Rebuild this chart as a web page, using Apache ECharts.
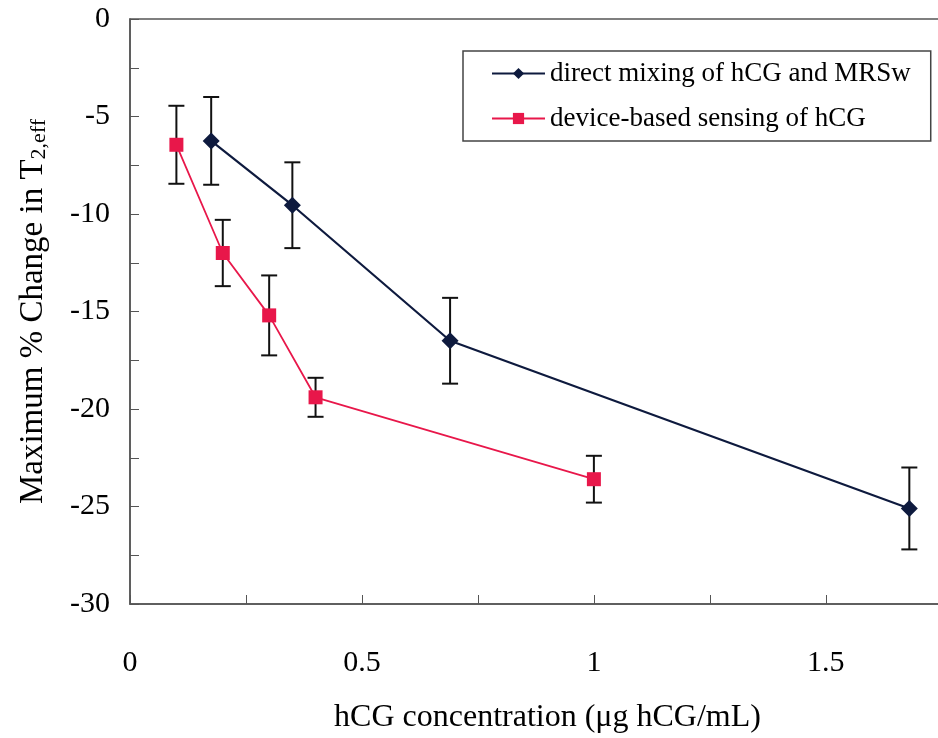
<!DOCTYPE html>
<html>
<head>
    <meta charset="utf-8">
    <script src="https://cdn.jsdelivr.net/npm/echarts@6/dist/echarts.min.js"></script>
    <style>
        body { margin: 0; background: #fff; }
    </style>
</head>
<body>
<div id="main" style="width: 938px;height:738px;"></div>
<script type="text/javascript">
    // values
    var directX = [0.175, 0.35, 0.69, 1.68];
    var directY = [-6.25, -9.55, -16.5, -25.1];
    var directErr = [2.25, 2.2, 2.2, 2.1];

    var deviceX = [0.1, 0.2, 0.3, 0.4, 1.0];
    var deviceY = [-6.45, -12.0, -15.2, -19.4, -23.6];
    var deviceErr = [2.0, 1.7, 2.05, 1.0, 1.2];

    var xTickLabels = ['0', '0.5', '1', '1.5'];
    var yTickLabels = ['0', '-5', '-10', '-15', '-20', '-25', '-30'];

    var serif = 'Liberation Serif';

    function pairs(xs, ys) {
        return xs.map(function (x, i) { return [x, ys[i]]; });
    }
    function errRows(xs, ys, es) {
        return xs.map(function (x, i) { return [x, ys[i] - es[i], ys[i] + es[i]]; });
    }

    // error bar with caps
    function renderErr(params, api) {
        var x = api.value(0);
        var top = api.coord([x, api.value(2)]);
        var bot = api.coord([x, api.value(1)]);
        var w = 8;
        var st = { stroke: '#111', lineWidth: 2 };
        return {
            type: 'group',
            children: [
                { type: 'line', shape: { x1: top[0], y1: top[1], x2: bot[0], y2: bot[1] }, style: st },
                { type: 'line', shape: { x1: top[0] - w, y1: top[1], x2: top[0] + w, y2: top[1] }, style: st },
                { type: 'line', shape: { x1: bot[0] - w, y1: bot[1], x2: bot[0] + w, y2: bot[1] }, style: st }
            ]
        };
    }

    var myChart = echarts.init(document.getElementById('main'));

    // the plot runs past the right edge of the picture (axis ends at 1.8)
    var option = {
        backgroundColor: '#fff',
        animation: false,
        grid: {
            left: 130, top: 19, width: 835, height: 585,
            outerBoundsMode: 'none',
            show: true, borderColor: '#555', borderWidth: 1.5, backgroundColor: 'transparent'
        },
        legend: {
            orient: 'vertical',
            left: 463, top: 51,
            padding: [9, 20, 9, 28],
            itemGap: 18,
            itemWidth: 53, itemHeight: 14,
            borderColor: '#444', borderWidth: 1.5,
            textStyle: { fontFamily: serif, fontSize: 27, color: '#000' },
            data: ['direct mixing of hCG and MRSw', 'device-based sensing of hCG']
        },
        xAxis: {
            type: 'value', min: 0, max: 1.8, interval: 0.25,
            name: 'hCG concentration (\u03bcg hCG/mL)',
            nameLocation: 'middle', nameGap: 98,
            nameTextStyle: { fontFamily: serif, fontSize: 32, color: '#000' },
            axisLine: { onZero: false, lineStyle: { color: '#555', width: 1.5 } },
            axisTick: { inside: true, length: 9, lineStyle: { color: '#555' } },
            splitLine: { show: false },
            axisLabel: {
                margin: 44, fontFamily: serif, fontSize: 30, color: '#000',
                formatter: function (v) {
                    var s = String(v);
                    return xTickLabels.indexOf(s) >= 0 ? s : '';
                }
            }
        },
        yAxis: {
            type: 'value', min: -30, max: 0, interval: 2.5,
            name: 'Maximum % Change in T{sub|2,eff}',
            nameLocation: 'middle', nameGap: 80,
            nameTextStyle: {
                fontFamily: serif, fontSize: 33, color: '#000',
                rich: { sub: { fontFamily: serif, fontSize: 22, color: '#000', padding: [12, 0, 0, 0] } }
            },
            axisLine: { lineStyle: { color: '#555', width: 1.5 } },
            axisTick: { inside: true, length: 9, lineStyle: { color: '#555' } },
            splitLine: { show: false },
            axisLabel: {
                margin: 20, fontFamily: serif, fontSize: 30, color: '#000',
                formatter: function (v) {
                    var s = String(v);
                    return yTickLabels.indexOf(s) >= 0 ? s : '';
                }
            }
        },
        series: [
            {
                type: 'custom', name: 'err1', renderItem: renderErr,
                encode: { x: 0, y: [1, 2] }, z: 1,
                data: errRows(directX, directY, directErr)
            },
            {
                type: 'custom', name: 'err2', renderItem: renderErr,
                encode: { x: 0, y: [1, 2] }, z: 1,
                data: errRows(deviceX, deviceY, deviceErr)
            },
            {
                name: 'direct mixing of hCG and MRSw', type: 'line', z: 3,
                symbol: 'diamond', symbolSize: 17,
                itemStyle: { color: '#0e1a3e' },
                lineStyle: { color: '#0e1a3e', width: 2.2 },
                data: pairs(directX, directY)
            },
            {
                name: 'device-based sensing of hCG', type: 'line', z: 3,
                symbol: 'rect', symbolSize: 14,
                itemStyle: { color: '#e8174a' },
                lineStyle: { color: '#e8174a', width: 1.8 },
                data: pairs(deviceX, deviceY)
            }
        ]
    };

    myChart.setOption(option);
</script>
</body>
</html>
